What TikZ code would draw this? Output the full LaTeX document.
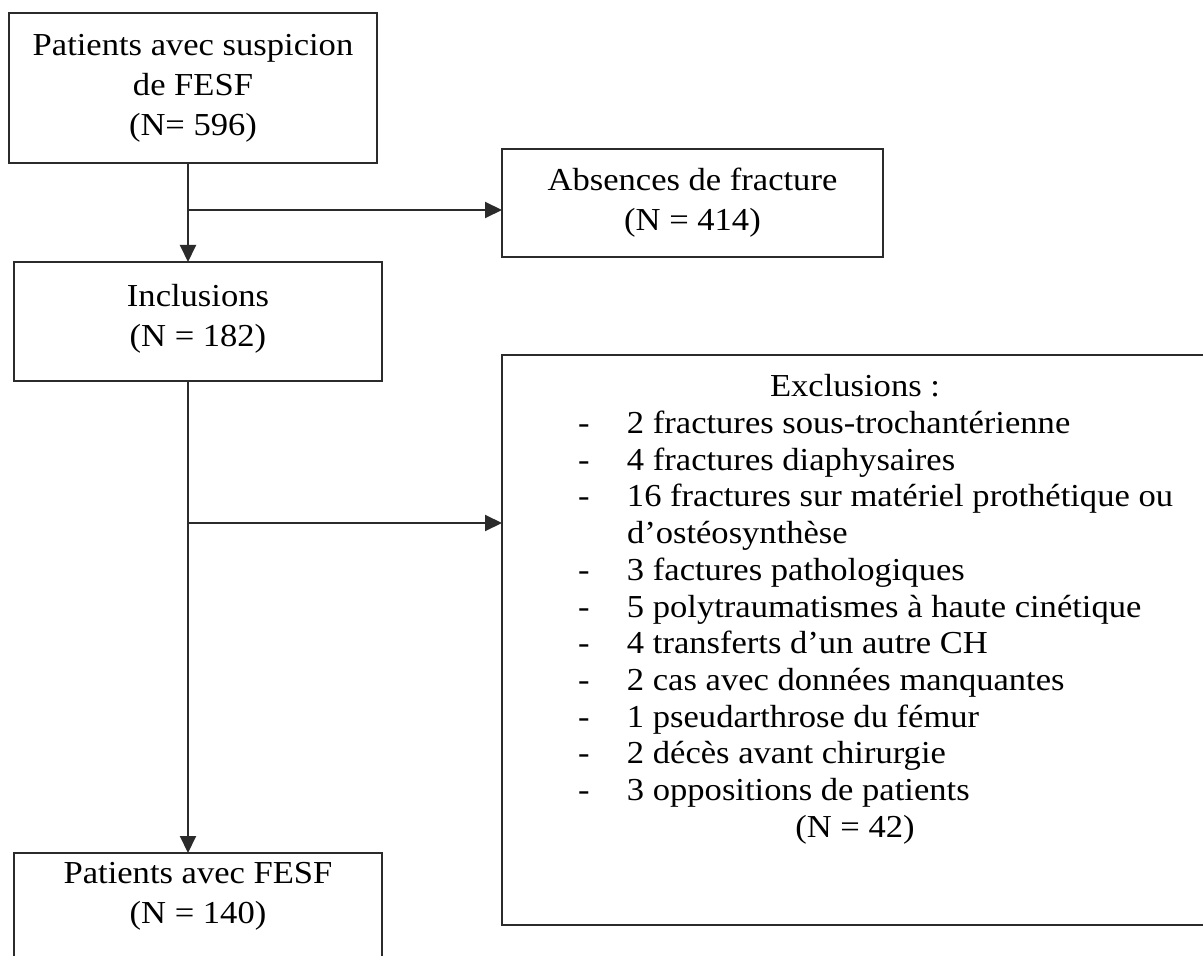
\documentclass[tikz,border=0pt]{standalone}
\usepackage{fontspec}
\setmainfont{Liberation Serif}[FakeStretch=1.08]
\usepackage{tikz}
\usetikzlibrary{arrows.meta,positioning,calc}
\definecolor{chartline}{HTML}{2B2B2B}
\tikzset{
  stage/.style={draw=chartline, line width=1pt, align=center, inner sep=0pt, outer sep=0pt, font=\fontsize{16}{20}\selectfont},
  flow/.style={-{Triangle[length=8.5pt,width=8pt]}, line width=1pt, draw=chartline}
}
\newcommand{\exitem}[1]{\par\noindent\hspace*{38pt}\makebox[24.5pt][l]{-}#1}
\newcommand{\toptext}[2]{\parbox[t][59.5pt][t]{184pt}{\vspace*{#1}\centering #2}}

\begin{document}
\begin{tikzpicture}[x=0.5pt, y=-0.5pt]
  \useasboundingbox (0,0) rectangle (1203,956);
  \node[stage, minimum width=184pt, minimum height=75pt] (suspect) at (193,88) {Patients avec suspicion\\de FESF\\(N= 596)};
  \node[stage, minimum width=190.5pt, minimum height=54pt] (nofract) at (692.5,203) {Absences de fracture\\(N = 414)};
  \node[stage, anchor=north west] (incl) at (14,262) {\toptext{11.3pt}{Inclusions\\(N = 182)}};
  \node[stage, anchor=north west] (excl) at (502,355) {\parbox[t][285pt][t]{353pt}{\vspace*{9.8pt}%
    \fontsize{16}{18.35}\selectfont
    {\centering Exclusions :\par}%
    \exitem{2 fractures sous-trochantérienne}%
    \exitem{4 fractures diaphysaires}%
    \exitem{16 fractures sur matériel prothétique ou}%
    \par\noindent\hspace*{62.5pt}d’ostéosynthèse%
    \exitem{3 factures pathologiques}%
    \exitem{5 polytraumatismes à haute cinétique}%
    \exitem{4 transferts d’un autre CH}%
    \exitem{2 cas avec données manquantes}%
    \exitem{1 pseudarthrose du fémur}%
    \exitem{2 décès avant chirurgie}%
    \exitem{3 oppositions de patients}%
    \par{\centering (N = 42)\par}}};
  \node[stage, anchor=north west] (fesf) at (14,853) {\toptext{4.8pt}{Patients avec FESF\\(N = 140)}};
  \coordinate (split1) at (188,210);
  \coordinate (split2) at (188,523);
  \draw[flow] ([xshift=-2.5pt]suspect.south) -- ([xshift=-5pt]incl.north);
  \draw[flow] (split1) -- (split1 -| nofract.west);
  \draw[flow] ([xshift=-5pt]incl.south) -- ([xshift=-5pt]fesf.north);
  \draw[flow] (split2) -- (split2 -| excl.west);
\end{tikzpicture}
\end{document}
